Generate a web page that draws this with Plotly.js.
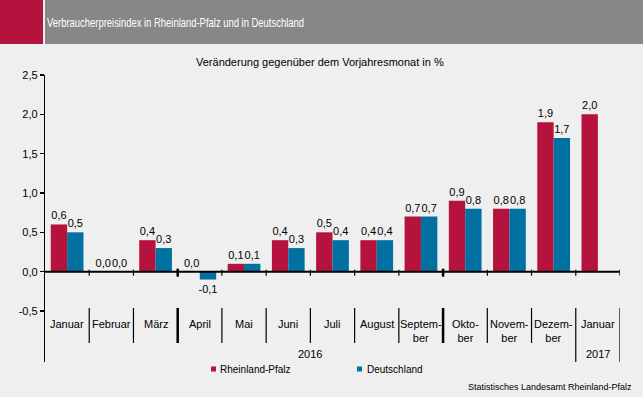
<!DOCTYPE html>
<html><head><meta charset="utf-8">
<script src="https://cdn.plot.ly/plotly-3.0.1.min.js"></script>
<style>html,body{margin:0;padding:0;background:#eeefee;}#chart{width:643px;height:397px;}</style>
</head><body><div id="chart"></div>
<script>
const months = ["Januar","Februar","März","April","Mai","Juni","Juli","August","Septem-<br>ber","Okto-<br>ber","Novem-<br>ber","Dezem-<br>ber","Januar"];
const years = ["2016","2017"];
const rheinlandPfalz = [0.6, 0.0, 0.4, 0.0, 0.1, 0.4, 0.5, 0.4, 0.7, 0.9, 0.8, 1.9, 2.0];
const deutschland = [0.5, 0.0, 0.3, -0.1, 0.1, 0.3, 0.4, 0.4, 0.7, 0.8, 0.8, 1.7, null];
const yTicks = [-0.5, 0, 0.5, 1.0, 1.5, 2.0, 2.5];
const seriesNames = ["Rheinland-Pfalz","Deutschland"];

const RED = "#b5133d", BLUE = "#0071a1", BG = "#eeefee";
const FONT = "Liberation Sans, Arial, sans-serif";
const W = 643, H = 397, L = 45, R = 23, T = 75, B = 35;
const pw = W - L - R, ph = H - T - B;
const px = v => (v - L) / pw;          // pixel x -> paper
const py = v => (H - B - v) / ph;      // pixel y -> paper
const fmt = v => v == null ? "" : v.toFixed(1).replace(".", ",");
const xs = months.map((_, i) => i);
const HEADER = "Verbraucherpreisindex in Rheinland-Pfalz und in Deutschland";

const traces = [
  {type: "bar", x: xs, y: rheinlandPfalz, name: seriesNames[0], marker: {color: RED},
   text: rheinlandPfalz.map(fmt), textposition: "outside", constraintext: "none", cliponaxis: false,
   textfont: {family: FONT, size: 11, color: "#000"}, hoverinfo: "none"},
  {type: "bar", x: xs, y: deutschland, name: seriesNames[1], marker: {color: BLUE},
   text: deutschland.map(fmt), textposition: "outside", constraintext: "none", cliponaxis: false,
   textfont: {family: FONT, size: 11, color: "#000"}, hoverinfo: "none"}
];

const shapes = [];
const annotations = [];
// header
shapes.push({type: "rect", xref: "paper", yref: "paper", x0: px(0), x1: px(43), y0: py(44), y1: py(0), fillcolor: RED, line: {width: 0}, layer: "below"});
shapes.push({type: "rect", xref: "paper", yref: "paper", x0: px(45), x1: px(643), y0: py(44), y1: py(0), fillcolor: "#878787", line: {width: 0}, layer: "below"});
annotations.push({xref: "paper", yref: "paper", x: px(47), y: py(23), xanchor: "left", yanchor: "middle", showarrow: false,
  text: HEADER, font: {family: FONT, size: 13, color: "#fff"}});
annotations.push({xref: "paper", yref: "paper", x: px(320), y: py(62), xanchor: "center", yanchor: "middle", showarrow: false,
  text: "Veränderung gegenüber dem Vorjahresmonat in %", font: {family: FONT, size: 11, color: "#000"}});

// zero line
shapes.push({type: "line", xref: "x", yref: "y", x0: -0.5, x1: months.length - 0.5, y0: 0, y1: 0, line: {color: "#000", width: 2}});
// ticks on zero line & separators
for (let i = 0; i < months.length; i++) {
  const b = i + 0.5;
  const thick = (b === 2.5 || b === 8.5);
  shapes.push({type: "line", xref: "x", yref: "y", ysizemode: "pixel", yanchor: 0, x0: b, x1: b, y0: thick ? -5 : -4, y1: thick ? 3 : 2, line: {color: "#000", width: thick ? 2.5 : 1.2}});
  const bottom = (b >= months.length - 1.5) ? 362 : 343;
  shapes.push({type: "line", xref: "x", yref: "paper", x0: b, x1: b, y0: py(bottom), y1: py(308), line: {color: "#000", width: thick ? 2.5 : 1.2}});
}
// month labels
months.forEach((m, i) => {
  annotations.push({xref: "x", yref: "paper", x: i, y: py(316), xanchor: "center", yanchor: "top", showarrow: false,
    text: m, font: {family: FONT, size: 11, color: "#000"}});
});
annotations.push({xref: "x", yref: "paper", x: 5.5, y: py(354), xanchor: "center", yanchor: "middle", showarrow: false, text: years[0], font: {family: FONT, size: 11, color: "#000"}});
annotations.push({xref: "x", yref: "paper", x: 12, y: py(354), xanchor: "center", yanchor: "middle", showarrow: false, text: years[1], font: {family: FONT, size: 11, color: "#000"}});

// legend
[[211, 218, RED, seriesNames[0]], [357, 365, BLUE, seriesNames[1]]].forEach(([sx, tx, c, n]) => {
  shapes.push({type: "rect", xref: "paper", yref: "paper", x0: px(sx), x1: px(sx + 5), y0: py(371.5), y1: py(366.5), fillcolor: c, line: {width: 0}});
  annotations.push({xref: "paper", yref: "paper", x: px(tx), y: py(369), xanchor: "left", yanchor: "middle", showarrow: false, text: n, font: {family: FONT, size: 10, color: "#000"}});
});
annotations.push({xref: "paper", yref: "paper", x: px(634), y: py(387), xanchor: "right", yanchor: "middle", showarrow: false,
  text: "Statistisches Landesamt Rheinland-Pfalz", font: {family: FONT, size: 9, color: "#000"}});

const layout = {
  width: W, height: H, margin: {l: L, r: R, t: T, b: B, pad: 0},
  paper_bgcolor: BG, plot_bgcolor: BG, showlegend: false,
  barmode: "group", bargap: 0.26, bargroupgap: 0,
  separators: ",.",
  font: {family: FONT, size: 11, color: "#000"},
  xaxis: {range: [-0.5, months.length - 0.5], showticklabels: false, showgrid: false, zeroline: false, showline: false, ticks: "", fixedrange: true},
  yaxis: {range: [-0.5 - (ph - 236) / (236 / 3) , 2.5], tickvals: yTicks, ticktext: yTicks.map(fmt),
    showgrid: false, zeroline: false, showline: true, linecolor: "#000", linewidth: 1.2,
    ticks: "outside", ticklen: 4, tickcolor: "#000", tickwidth: 1.2, tickfont: {family: FONT, size: 11, color: "#000"}, fixedrange: true},
  shapes: shapes, annotations: annotations
};
Plotly.newPlot("chart", traces, layout, {displayModeBar: false, staticPlot: true}).then(() => {
  document.querySelectorAll("#chart text.annotation-text").forEach(t => {
    if (t.textContent === HEADER) {
      t.setAttribute("textLength", 257);
      t.setAttribute("lengthAdjust", "spacingAndGlyphs");
      const r = t.getBoundingClientRect();
      const x0 = parseFloat(t.getAttribute("x")) || 0;
      t.setAttribute("x", x0 + (47 - r.left));
    }
  });
});
</script></body></html>
